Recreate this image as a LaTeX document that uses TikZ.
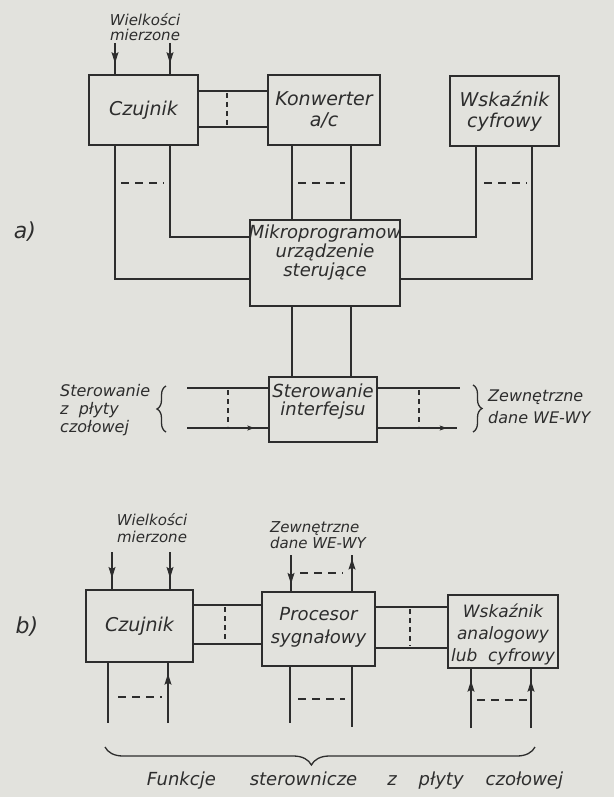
\documentclass[tikz,border=0pt]{standalone}
\usepackage{fontspec}
\setmainfont{DejaVu Sans}
\usetikzlibrary{arrows.meta,decorations.pathreplacing,decorations.markings}
\definecolor{paper}{RGB}{226,226,221}
\definecolor{ink}{RGB}{45,45,45}
\begin{document}
\begin{tikzpicture}[x=1pt,y=-1pt,
  box/.style={draw=ink,line width=1.8pt,inner sep=0pt,align=center,text=ink,font=\fontsize{19}{21}\selectfont\itshape},
  ln/.style={draw=ink,line width=1.4pt},
  dsh/.style={draw=ink,line width=1.1pt,dash pattern=on 5pt off 4pt},
  dshh/.style={draw=ink,line width=1.4pt,dash pattern=on 8pt off 6pt},
  lbl/.style={text=ink,font=\fontsize{16}{16}\selectfont\itshape,inner sep=0pt,align=center},
  brc/.style={draw=ink,line width=1.3pt,decorate},
  midarr/.style={postaction={decorate},decoration={markings,mark=at position #1 with {\arrow[ink,line width=1pt]{Stealth[length=11pt,width=7pt,inset=2pt]}}}},
  smallarr/.style={postaction={decorate},decoration={markings,mark=at position #1 with {\arrow[ink,line width=0.8pt]{Stealth[length=7pt,width=5pt,inset=1.5pt]}}}},
]
\fill[paper] (0,0) rectangle (614,797);
\useasboundingbox (0,0) rectangle (614,797);

% ---------- part a ----------
\node[box,minimum width=109pt,minimum height=70pt] (cza) at (143.5,110) {Czujnik};
\node[box,minimum width=112pt,minimum height=70pt] (kon) at (324,110) {Konwerter\\a/c};
\node[box,minimum width=109pt,minimum height=70pt] (wsa) at (504.5,111) {Wskaźnik\\cyfrowy};
\node[box,minimum width=150pt,minimum height=86pt] (mik) at (325,263) {};
\node[lbl,font=\fontsize{18}{19}\selectfont\itshape] (mikt) at (325,253) {Mikroprogramow\\urządzenie\\sterujące};
\node[box,minimum width=108pt,minimum height=65pt] (ste) at (323,409.5) {};
\node[lbl,font=\fontsize{18}{18}\selectfont\itshape] (stet) at (323,402) {Sterowanie\\interfejsu};

\node[lbl,font=\fontsize{15}{15}\selectfont\itshape] (wma) at (145,27) {Wielkości\\mierzone};
\node[lbl,font=\fontsize{22}{22}\selectfont\itshape] (la) at (25,232) {a)};
\node[lbl,align=left,anchor=west,font=\fontsize{16}{18}\selectfont\itshape] (stl) at (60,410) {Sterowanie\\z\ \ płyty\\czołowej};
\node[lbl,align=left,anchor=west,font=\fontsize{16}{22}\selectfont\itshape] (zwa) at (488,407) {Zewnętrzne\\dane WE-WY};

\draw[ln,midarr=0.65] (115,43) -- (cza.north -| 115,0);
\draw[ln,midarr=0.65] (170,43) -- (cza.north -| 170,0);

\draw[ln] (cza.east |- 0,91) -- (kon.west |- 0,91);
\draw[ln] (cza.east |- 0,127) -- (kon.west |- 0,127);
\draw[dsh] (227,93) -- (227,125);

\draw[ln] (cza.south -| 115,0) |- (mik.west |- 0,279);
\draw[ln] (cza.south -| 170,0) |- (mik.west |- 0,237);
\draw[dshh] (121,183) -- (164,183);

\draw[ln] (kon.south -| 292,0) -- (mik.north -| 292,0);
\draw[ln] (kon.south -| 351,0) -- (mik.north -| 351,0);
\draw[dshh] (298,183) -- (345,183);

\draw[ln] (wsa.south -| 476,0) |- (mik.east |- 0,237);
\draw[ln] (wsa.south -| 532,0) |- (mik.east |- 0,279);
\draw[dshh] (484,183) -- (527,183);

\draw[ln] (mik.south -| 292,0) -- (ste.north -| 292,0);
\draw[ln] (mik.south -| 351,0) -- (ste.north -| 351,0);

\coordinate (sl1) at (187,388);
\coordinate (sl2) at (187,428);
\coordinate (sr1) at (460,388);
\coordinate (sr2) at (457,428);
\draw[ln] (sl1) -- (ste.west |- sl1);
\draw[ln,smallarr=0.83] (sl2) -- (ste.west |- sl2);
\draw[dsh] (228,390) -- (228,426);
\draw[ln] (ste.east |- sr1) -- (sr1);
\draw[ln,smallarr=0.87] (ste.east |- sr2) -- (sr2);
\draw[dsh] (419,390) -- (419,426);

\draw[brc,decoration={brace,amplitude=9pt}] (166,432) -- (166,386);
\draw[brc,decoration={brace,amplitude=9pt}] (473,385) -- (473,432);

% ---------- part b ----------
\node[box,minimum width=107pt,minimum height=72pt] (czb) at (139.5,626) {Czujnik};
\node[box,minimum width=113pt,minimum height=74pt] (pro) at (318.5,629) {};
\node[lbl,font=\fontsize{18}{23}\selectfont\itshape] (prot) at (318.5,627) {Procesor\\sygnałowy};
\node[box,minimum width=110pt,minimum height=73pt] (wsb) at (503,631.5) {};
\node[lbl,font=\fontsize{17}{22}\selectfont\itshape] (wsbt) at (503,634) {Wskaźnik\\analogowy\\lub\ \ cyfrowy};

\node[lbl,font=\fontsize{15}{17}\selectfont\itshape] (wmb) at (152,528) {Wielkości\\mierzone};
\node[lbl,align=left,anchor=west,font=\fontsize{15}{16}\selectfont\itshape] (zwb) at (270,535) {Zewnętrzne\\dane WE-WY};
\node[lbl,font=\fontsize{22}{22}\selectfont\itshape] (lb) at (27,627) {b)};
\node[lbl,font=\fontsize{18}{18}\selectfont\itshape] (fun) at (355,781) {Funkcje\hspace{34pt}sterownicze\hspace{30pt}z\hspace{22pt}płyty\hspace{22pt}czołowej};

\draw[ln,midarr=0.7] (112,552) -- (czb.north -| 112,0);
\draw[ln,midarr=0.7] (170,552) -- (czb.north -| 170,0);
\draw[ln,midarr=0.8] (291,555) -- (pro.north -| 291,0);
\draw[ln,midarr=0.9] (pro.north -| 352,0) -- (352,555);
\draw[dshh] (300,573) -- (343,573);

\draw[ln] (czb.east |- 0,605) -- (pro.west |- 0,605);
\draw[ln] (czb.east |- 0,644) -- (pro.west |- 0,644);
\draw[dsh] (225,607) -- (225,642);
\draw[ln] (pro.east |- 0,607) -- (wsb.west |- 0,607);
\draw[ln] (pro.east |- 0,648) -- (wsb.west |- 0,648);
\draw[dsh] (410,609) -- (410,646);

\draw[ln] (czb.south -| 108,0) -- (108,723);
\draw[ln,midarr=0.82] (168,723) -- (czb.south -| 168,0);
\draw[dshh] (118,697) -- (162,697);
\draw[ln] (pro.south -| 290,0) -- (290,723);
\draw[ln] (pro.south -| 352,0) -- (352,727);
\draw[dshh] (298,699) -- (345,699);
\draw[ln,midarr=0.8] (471,728) -- (wsb.south -| 471,0);
\draw[ln,midarr=0.8] (531,728) -- (wsb.south -| 531,0);
\draw[dshh] (477,700) -- (527,700);

\draw[brc,decoration={brace,amplitude=18pt,aspect=0.52}] (535,747) -- (105,747);
\end{tikzpicture}
\end{document}
